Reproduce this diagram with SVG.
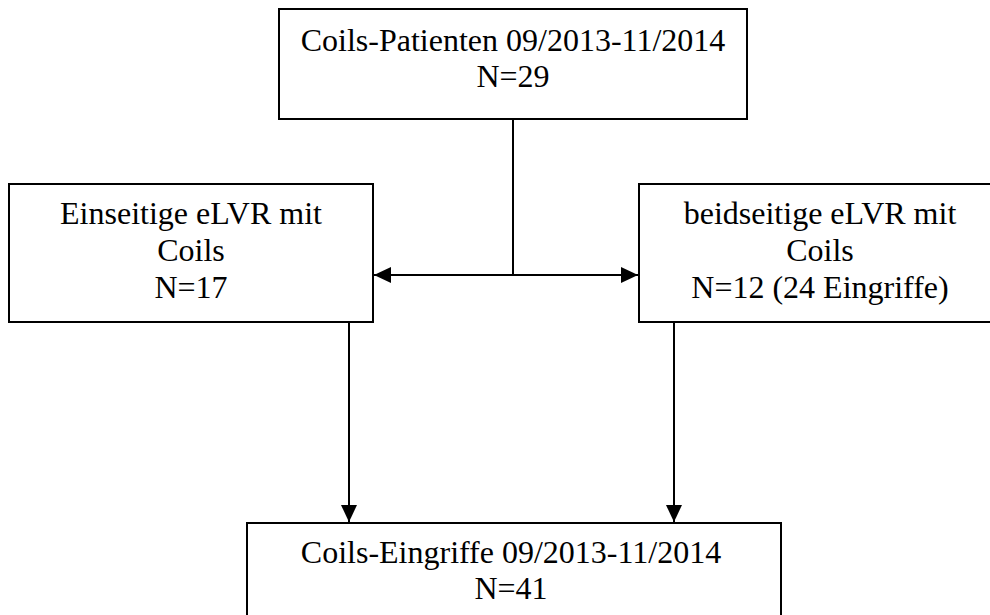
<svg xmlns="http://www.w3.org/2000/svg" width="990" height="615" viewBox="0 0 990 615">
<style>
.box{fill:#fff;stroke:#000;stroke-width:2}
.t{font-family:"Liberation Serif","Times New Roman",serif;font-size:32px;fill:#000;text-anchor:middle}
.c{stroke:#000;stroke-width:2;fill:none}
</style>
<defs>
<marker id="ah" markerUnits="userSpaceOnUse" markerWidth="18" markerHeight="16" refX="17" refY="8" orient="auto">
<path d="M0,0 L17,8 L0,16 Z" fill="#000"/>
</marker>
</defs>
<rect width="990" height="615" fill="#fff"/>
<g id="top">
<rect class="box" x="279" y="9" width="468" height="110"/>
<text class="t" x="513" y="51">Coils-Patienten 09/2013-11/2014</text>
<text class="t" x="513" y="87">N=29</text>
</g>
<g id="left">
<rect class="box" x="9" y="184" width="364" height="138"/>
<text class="t" x="191" y="224">Einseitige eLVR mit</text>
<text class="t" x="191" y="261">Coils</text>
<text class="t" x="191" y="298">N=17</text>
</g>
<g id="right">
<rect class="box" x="639" y="184" width="363" height="138"/>
<text class="t" x="820" y="224">beidseitige eLVR mit</text>
<text class="t" x="820" y="261">Coils</text>
<text class="t" x="820" y="298">N=12 (24 Eingriffe)</text>
</g>
<g id="bottom">
<rect class="box" x="247" y="523" width="534" height="110"/>
<text class="t" x="511" y="563">Coils-Eingriffe 09/2013-11/2014</text>
<text class="t" x="511" y="599">N=41</text>
</g>
<g id="connectors">
<line class="c" x1="513" y1="119" x2="513" y2="275"/>
<line class="c" x1="513" y1="275" x2="374" y2="275" marker-end="url(#ah)"/>
<line class="c" x1="513" y1="275" x2="638" y2="275" marker-end="url(#ah)"/>
<line class="c" x1="349" y1="322" x2="349" y2="522" marker-end="url(#ah)"/>
<line class="c" x1="674" y1="322" x2="674" y2="522" marker-end="url(#ah)"/>
</g>
</svg>
